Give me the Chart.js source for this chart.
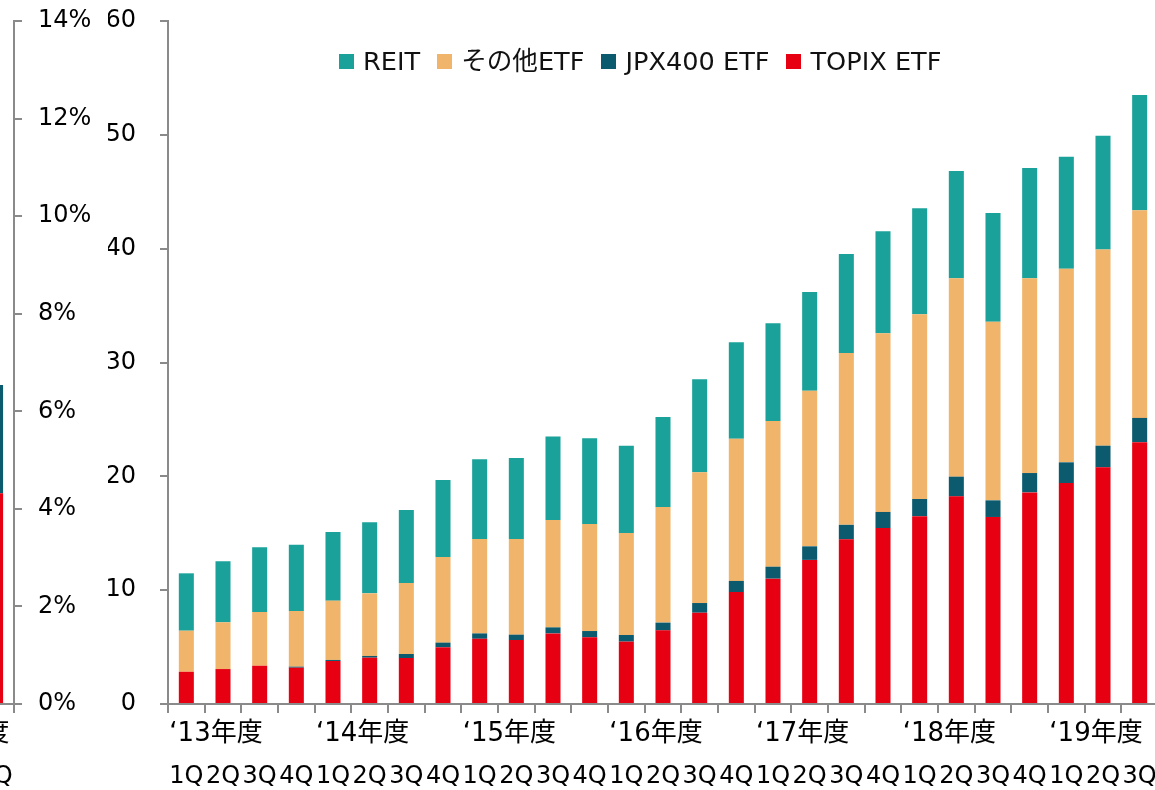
<!DOCTYPE html>
<html>
<head>
<meta charset="utf-8">
<script src="https://cdn.jsdelivr.net/npm/chart.js@4.4.1/dist/chart.umd.min.js"></script>
<style>
  html, body { margin: 0; padding: 0; background: #fff; overflow: hidden; width: 1155px; height: 790px; }
  #left { position: absolute; left: -23px; top: 0; }
  #main { position: absolute; left: 0; top: 0; }
  #legend { position: absolute; left: 339px; top: 46px; display: flex; align-items: center;
            font: 25.6px "DejaVu Sans", "Noto Sans CJK JP", sans-serif; line-height: 30px; color: #111; white-space: nowrap; }
  #legend .item { display: flex; align-items: center; margin-right: 17px; }
  #legend .box { width: 15px; height: 15px; margin-right: 9px; }
</style>
</head>
<body>
<canvas id="left" width="123" height="790"></canvas>
<canvas id="main" width="1160" height="790"></canvas>
<div id="legend"></div>
<script>
// quarter labels, '13年度 1Q .. '19年度 3Q
const quarters = ['1Q','2Q','3Q','4Q','1Q','2Q','3Q','4Q','1Q','2Q','3Q','4Q','1Q','2Q',
                  '3Q','4Q','1Q','2Q','3Q','4Q','1Q','2Q','3Q','4Q','1Q','2Q','3Q'];
const years = ['‘13年度','','','','‘14年度','','','','‘15年度','','','','‘16年度','','','',
               '‘17年度','','','','‘18年度','','','','‘19年度','',''];

// 兆円
const topix = [2.83, 3.07, 3.36, 3.19, 3.78, 4.07, 4.04, 4.98, 5.73, 5.62, 6.20, 5.86, 5.48, 6.47,
               8.02, 9.84, 11.01, 12.66, 14.47, 15.46, 16.50, 18.24, 16.43, 18.59, 19.41, 20.79, 23.00];
const jpx400 = [0, 0, 0, 0.09, 0.09, 0.15, 0.35, 0.41, 0.47, 0.47, 0.53, 0.55, 0.58, 0.68,
                0.85, 0.97, 1.05, 1.19, 1.27, 1.41, 1.51, 1.73, 1.46, 1.70, 1.82, 1.90, 2.13];
const otherEtf = [3.61, 4.11, 4.72, 4.89, 5.21, 5.50, 6.24, 7.52, 8.30, 8.41, 9.43, 9.40, 8.97, 10.16,
                  11.48, 12.50, 12.80, 13.66, 15.10, 15.69, 16.23, 17.43, 15.69, 17.11, 17.01, 17.24, 18.24];
const reit = [5.04, 5.36, 5.69, 5.82, 6.03, 6.24, 6.41, 6.77, 6.99, 7.10, 7.34, 7.53, 7.66, 7.90,
              8.17, 8.46, 8.58, 8.68, 8.69, 8.96, 9.30, 9.42, 9.55, 9.69, 9.84, 10.00, 10.13];

// left panel (cut off in the picture): last bar only, in %
const leftQuarters = ['3Q'];
const leftYears = ['‘19年度'];
const leftTopix = [4.32];
const leftJpx = [2.22];

const colors = { reit: '#1AA29A', other: '#F1B46B', jpx: '#0B5A6E', topix: '#E60012' };
const gray = '#8a8a8a';

Chart.defaults.font.family = '"DejaVu Sans", "Noto Sans CJK JP", sans-serif';
Chart.defaults.color = '#000';

const noPadX = s => { s.paddingLeft = 0; s.paddingRight = 0; };
const noPadY = s => { s.paddingTop = 0; s.paddingBottom = 0; };

function yearAxis(labels, align, offset) {
    return {
        type: 'category', axis: 'x', labels: labels, position: 'bottom', weight: 0, offset: true,
        grid: { display: true, drawOnChartArea: false, offset: true, tickLength: 9, color: gray, lineWidth: 2 },
        border: { display: true, color: gray, width: 2 },
        ticks: { align: align, labelOffset: offset, padding: 6, autoSkip: false, maxRotation: 0,
                 font: { size: 26 }, color: '#000' },
        afterFit: s => { s.height = 46; noPadX(s); }
    };
}

function quarterAxis(labels) {
    return {
        type: 'category', labels: labels, position: 'bottom', weight: 1, offset: true, stacked: true,
        grid: { display: false, drawTicks: false, tickLength: 0 },
        border: { display: false },
        ticks: { padding: 15, autoSkip: false, maxRotation: 0, font: { size: 24, lineHeight: 1 }, color: '#000' },
        afterFit: s => { s.height = 40; noPadX(s); }
    };
}

const barOpts = { xAxisID: 'x', yAxisID: 'y', categoryPercentage: 0.41, barPercentage: 1, borderWidth: 0 };

new Chart(document.getElementById('left'), {
    type: 'bar',
    data: {
        labels: leftQuarters,
        datasets: [
            { label: 'TOPIX ETF', data: leftTopix, backgroundColor: colors.topix, ...barOpts },
            { label: 'JPX400 ETF', data: leftJpx, backgroundColor: colors.jpx, ...barOpts }
        ]
    },
    options: {
        responsive: false,
        animation: false,
        layout: { padding: { left: 0, top: 21, right: 0, bottom: 0 } },
        scales: {
            x: quarterAxis(leftQuarters),
            x2: yearAxis(leftYears, 'end', 14),
            y: {
                position: 'right', stacked: true, min: 0, max: 14,
                grid: { drawOnChartArea: false, tickLength: 8, color: gray, lineWidth: 2 },
                border: { color: gray, width: 2 },
                ticks: { stepSize: 2, padding: 16, font: { size: 24 }, color: '#000', callback: v => v + '%' },
                afterFit: s => { s.width = 86; noPadY(s); }
            }
        },
        plugins: { legend: { display: false }, tooltip: { enabled: false } }
    }
});

const mainChart = new Chart(document.getElementById('main'), {
    type: 'bar',
    data: {
        labels: quarters,
        datasets: [
            { label: 'TOPIX ETF', data: topix, backgroundColor: colors.topix, ...barOpts },
            { label: 'JPX400 ETF', data: jpx400, backgroundColor: colors.jpx, ...barOpts },
            { label: 'その他ETF', data: otherEtf, backgroundColor: colors.other, ...barOpts },
            { label: 'REIT', data: reit, backgroundColor: colors.reit, ...barOpts }
        ]
    },
    options: {
        responsive: false,
        animation: false,
        layout: { padding: { left: 108, top: 21, right: 2, bottom: 0 } },
        scales: {
            x: quarterAxis(quarters),
            x2: yearAxis(years, 'start', -17),
            y: {
                position: 'left', stacked: true, min: 0, max: 60,
                grid: { drawOnChartArea: false, tickLength: 8, color: gray, lineWidth: 2 },
                border: { color: gray, width: 2 },
                ticks: { stepSize: 10, padding: 24, font: { size: 24 }, color: '#000' },
                afterFit: s => { s.width = 60; noPadY(s); }
            }
        },
        plugins: { legend: { display: false }, tooltip: { enabled: false } }
    }
});

// legend drawn in html, top series first
const legendEl = document.getElementById('legend');
mainChart.data.datasets.slice().reverse().forEach(ds => {
    const item = document.createElement('div');
    item.className = 'item';
    const box = document.createElement('span');
    box.className = 'box';
    box.style.background = ds.backgroundColor;
    const txt = document.createElement('span');
    txt.textContent = ds.label;
    item.appendChild(box);
    item.appendChild(txt);
    legendEl.appendChild(item);
});
</script>
</body>
</html>
